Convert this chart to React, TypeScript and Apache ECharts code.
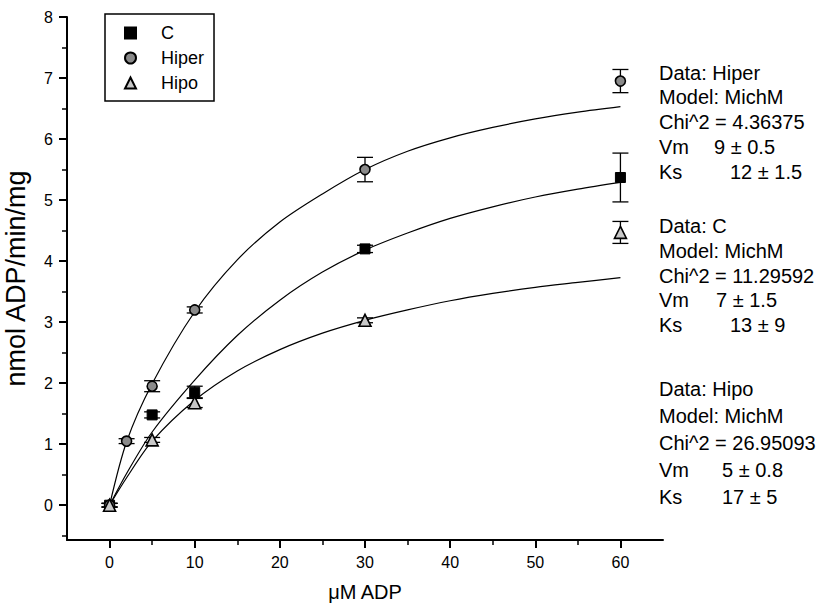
import React, { useEffect, useRef } from "react";
import * as echarts from "echarts";

// ---- data ----
const xHiper = [0, 2, 5, 10, 30, 60];
const yHiper = [0, 1.05, 1.95, 3.2, 5.5, 6.95];
const eHiper = [0.03, 0.04, 0.09, 0.05, 0.2, 0.19];

const xC = [0, 5, 10, 30, 60];
const yC = [0, 1.48, 1.85, 4.2, 5.37];
const eC = [0.03, 0.05, 0.1, 0.06, 0.4];

const xHipo = [0, 5, 10, 30, 60];
const yHipo = [0, 1.07, 1.68, 3.03, 4.47];
const eHipo = [0.03, 0.04, 0.08, 0.04, 0.18];

const curveX = [0, 2, 5, 10, 15, 20, 25, 30, 35, 40, 45, 50, 55, 60];
const curveHiper = [0, 1.04, 1.99, 3.17, 4.02, 4.64, 5.1, 5.5, 5.8, 6.02, 6.19, 6.33, 6.44, 6.53];
const curveC = [0, 0.52, 1.2, 2.05, 2.78, 3.36, 3.82, 4.18, 4.46, 4.7, 4.89, 5.05, 5.18, 5.29];
const curveHipo = [0, 0.45, 1.05, 1.72, 2.2, 2.55, 2.82, 3.03, 3.2, 3.35, 3.47, 3.57, 3.65, 3.73];

const xTicks = [0, 10, 20, 30, 40, 50, 60];
const xMinorTicks = [5, 15, 25, 35, 45, 55];
const yTicks = [0, 1, 2, 3, 4, 5, 6, 7, 8];
const yMinorTicks = [-0.5, 0.5, 1.5, 2.5, 3.5, 4.5, 5.5, 6.5, 7.5];

const fitBlocks = [
  { data: "Data: Hiper", chi: "Chi^2 = 4.36375", vm: "9 ± 0.5", ks: "12 ± 1.5" },
  { data: "Data: C", chi: "Chi^2 = 11.29592", vm: "7 ± 1.5", ks: "13 ± 9" },
  { data: "Data: Hipo", chi: "Chi^2 = 26.95093", vm: "5 ± 0.8", ks: "17 ± 5" },
];

const FONT = "'Liberation Sans', Arial, Helvetica, sans-serif";

function zip(xs: number[], ys: number[]) {
  return xs.map((x, i) => [x, ys[i]]);
}
function zip3(xs: number[], ys: number[], es: number[]) {
  return xs.map((x, i) => [x, ys[i], es[i]]);
}

const errRender = (params: any, api: any) => {
  const x = api.value(0);
  const y = api.value(1);
  const e = api.value(2);
  const top = api.coord([x, y + e]);
  const bot = api.coord([x, y - e]);
  const hw = 8;
  const style = { stroke: "#000", lineWidth: 1.3, fill: null };
  return {
    type: "group",
    children: [
      { type: "line", shape: { x1: top[0], y1: top[1], x2: bot[0], y2: bot[1] }, style },
      { type: "line", shape: { x1: top[0] - hw, y1: top[1], x2: top[0] + hw, y2: top[1] }, style },
      { type: "line", shape: { x1: bot[0] - hw, y1: bot[1], x2: bot[0] + hw, y2: bot[1] }, style },
    ],
  };
};

export default function App() {
  const ref = useRef<HTMLDivElement>(null);
  useEffect(() => {
    if (!ref.current) return;
    const chart = echarts.init(ref.current, null, { renderer: "svg" });

    const blockLines: any[] = [];
    const blockTops = [
      [73, 97, 122, 147, 172],
      [226, 251, 276, 300, 325],
      [389, 416, 443, 470, 497],
    ];
    const valueX = [[714, 730], [716, 730], [722, 722]];
    fitBlocks.forEach((b, i) => {
      const ys = blockTops[i];
      const t = (text: string, x: number, y: number) => ({
        type: "text",
        x,
        y,
        style: { text, fill: "#000", font: `20px ${FONT}`, textVerticalAlign: "middle" },
      });
      blockLines.push(t(b.data, 659, ys[0]));
      blockLines.push(t("Model: MichM", 659, ys[1]));
      blockLines.push(t(b.chi, 659, ys[2]));
      blockLines.push(t("Vm", 659, ys[3]));
      blockLines.push(t(b.vm, valueX[i][0], ys[3]));
      blockLines.push(t("Ks", 659, ys[4]));
      blockLines.push(t(b.ks, valueX[i][1], ys[4]));
    });

    const lineCommon = {
      type: "line",
      showSymbol: false,
      symbol: "none",
      smooth: 0.3,
      lineStyle: { color: "#000", width: 1.2 },
      silent: true,
      z: 2,
    };
    const errCommon = { type: "custom", renderItem: errRender, encode: { x: 0, y: 1 }, z: 3, silent: true };

    chart.setOption({
      animation: false,
      backgroundColor: "#fff",
      textStyle: { fontFamily: FONT },
      grid: {
        left: 67,
        top: 17,
        width: 596,
        height: 523,
        containLabel: false,
        outerBoundsMode: "none",
      },
      legend: {
        left: 105,
        top: 14,
        orient: "vertical",
        padding: [9, 10, 8, 19],
        itemWidth: 11,
        itemHeight: 11,
        itemGap: 5,
        borderColor: "#000",
        borderWidth: 1.5,
        data: ["C", "Hiper", "Hipo"],
        textStyle: { fontSize: 18, lineHeight: 20, color: "#000", padding: [0, 0, 0, 20], fontFamily: FONT },
      },
      xAxis: [
        {
          type: "value",
          min: -5,
          max: 65,
          position: "bottom",
          splitLine: { show: false },
          axisLine: { show: true, onZero: false, lineStyle: { color: "#000", width: 2 } },
          axisTick: { show: true, length: 8, customValues: xTicks, lineStyle: { color: "#000", width: 2 } },
          axisLabel: { show: true, customValues: xTicks, fontSize: 16, color: "#000", margin: 14, fontFamily: FONT },
          name: "μM ADP",
          nameLocation: "middle",
          nameGap: 42,
          nameTextStyle: { fontSize: 20, color: "#000", fontFamily: FONT },
        },
        {
          type: "value",
          min: -5,
          max: 65,
          position: "bottom",
          splitLine: { show: false },
          axisLine: { show: false, onZero: false },
          axisTick: { show: true, length: 5, customValues: xMinorTicks, lineStyle: { color: "#000", width: 1.5 } },
          axisLabel: { show: false },
        },
      ],
      yAxis: [
        {
          type: "value",
          min: -0.57,
          max: 8,
          position: "left",
          splitLine: { show: false },
          axisLine: { show: true, onZero: false, lineStyle: { color: "#000", width: 2 } },
          axisTick: { show: true, length: 8, customValues: yTicks, lineStyle: { color: "#000", width: 2 } },
          axisLabel: { show: true, customValues: yTicks, fontSize: 16, color: "#000", margin: 14, fontFamily: FONT },
          name: "nmol ADP/min/mg",
          nameLocation: "middle",
          nameGap: 38,
          nameRotate: 90,
          nameTextStyle: { fontSize: 27, color: "#000", fontFamily: FONT },
        },
        {
          type: "value",
          min: -0.57,
          max: 8,
          position: "left",
          splitLine: { show: false },
          axisLine: { show: false, onZero: false },
          axisTick: { show: true, length: 5, customValues: yMinorTicks, lineStyle: { color: "#000", width: 1.5 } },
          axisLabel: { show: false },
        },
      ],
      series: [
        { ...lineCommon, name: "fitHiper", data: zip(curveX, curveHiper) },
        { ...lineCommon, name: "fitC", data: zip(curveX, curveC) },
        { ...lineCommon, name: "fitHipo", data: zip(curveX, curveHipo) },
        { ...errCommon, name: "errHiper", data: zip3(xHiper, yHiper, eHiper) },
        { ...errCommon, name: "errC", data: zip3(xC, yC, eC) },
        { ...errCommon, name: "errHipo", data: zip3(xHipo, yHipo, eHipo) },
        {
          type: "scatter",
          name: "C",
          symbol: "rect",
          symbolSize: 10,
          itemStyle: { color: "#000", borderColor: "#000", borderWidth: 1, opacity: 1 },
          data: zip(xC, yC),
          z: 5,
        },
        {
          type: "scatter",
          name: "Hiper",
          symbol: "circle",
          symbolSize: 10,
          itemStyle: { color: "#8a8a8a", borderColor: "#000", borderWidth: 1.6, opacity: 1 },
          data: zip(xHiper, yHiper),
          z: 5,
        },
        {
          type: "scatter",
          name: "Hipo",
          symbol: "triangle",
          symbolSize: 12,
          itemStyle: { color: "#c8c8c8", borderColor: "#000", borderWidth: 1.6, opacity: 1 },
          data: zip(xHipo, yHipo),
          z: 5,
        },
      ],
      graphic: blockLines,
    });

    return () => chart.dispose();
  }, []);

  return (
    <div
      ref={ref}
      style={{ position: "fixed", left: 0, top: 0, width: 825, height: 612, background: "#fff" }}
    />
  );
}
